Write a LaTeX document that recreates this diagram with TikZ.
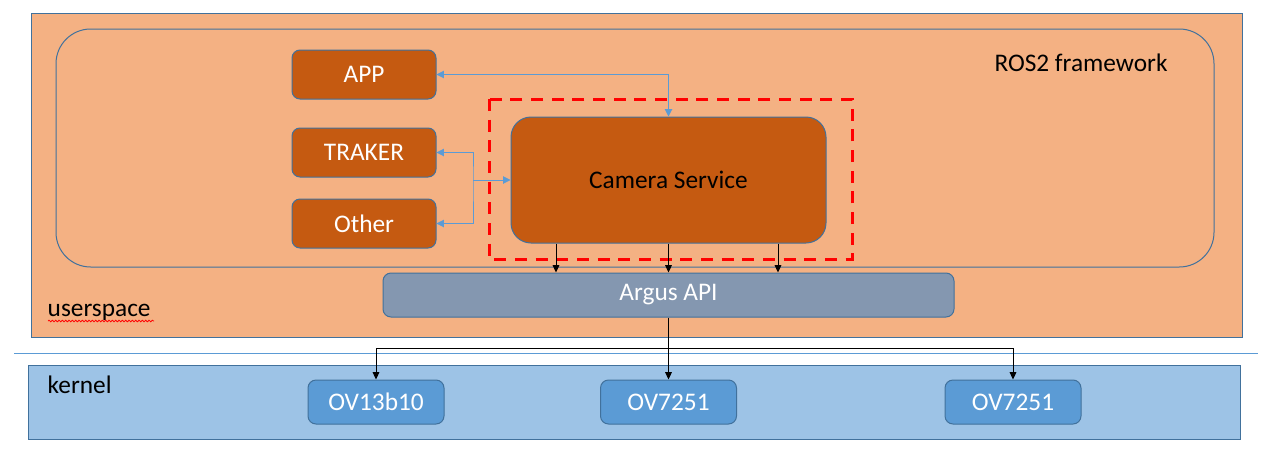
\documentclass[tikz,border=0pt]{standalone}
\usepackage{fontspec}
\setmainfont{Carlito}
\usetikzlibrary{arrows.meta,decorations.pathmorphing}

\definecolor{orangebg}{HTML}{F4B183}
\definecolor{boxorange}{HTML}{C55A11}
\definecolor{edgeblue}{HTML}{41719C}
\definecolor{argusgray}{HTML}{8497B0}
\definecolor{kernelbg}{HTML}{9DC3E6}
\definecolor{ovblue}{HTML}{5B9BD5}

\tikzset{
  appbox/.style={draw=edgeblue, line width=0.75pt, fill=boxorange, text=white,
    rounded corners=6pt, minimum width=108pt, minimum height=36.75pt},
  ovbox/.style={draw=edgeblue, line width=0.75pt, fill=ovblue, text=white,
    rounded corners=6pt, minimum width=102pt, minimum height=33pt},
  bluelink/.style={ovblue, line width=0.75pt, -{Triangle[length=5.5pt,width=5.5pt]}},
  bluelinks/.style={bluelink, {Triangle[length=5.5pt,width=5.5pt]}-{Triangle[length=5.5pt,width=5.5pt]}},
  blacklink/.style={black, line width=0.75pt, -{Triangle[length=5.5pt,width=5pt]}}
}

\begin{document}
\begin{tikzpicture}[x=0.75pt, y=-0.75pt, font=\fontsize{19}{23}\selectfont]
\useasboundingbox (0,0) rectangle (1267,461);

% Draw the two layers
\draw[edgeblue, line width=0.75pt, fill=orangebg] (31,13) rectangle (1242,337);
\draw[edgeblue, line width=0.75pt, rounded corners=26pt] (56,29) rectangle (1214,267);
\draw[ovblue, line width=0.75pt] (14,353) -- (1258,353);
\draw[edgeblue, line width=0.75pt, fill=kernelbg] (28,365) rectangle (1240,439);

\node (ros) at (1081,63) {ROS2 framework};
\node[anchor=west] (user) at (43,312) {userspace};
\draw[red, line width=0.6pt, decorate, decoration={snake, amplitude=0.6pt, segment length=2.5pt}]
  (48,321) -- (154,321);
\node[anchor=west] (kern) at (43,385) {kernel};

% Draw the ROS2 nodes
\node[appbox] (app) at (364,74.5) {APP};
\node[appbox] (trk) at (364,152.5) {TRAKER};
\node[appbox] (oth) at (364,223.5) {Other};
\node[draw=edgeblue, line width=0.75pt, fill=boxorange, rounded corners=15pt,
  minimum width=236.25pt, minimum height=94.5pt] (cam) at (668.5,180) {Camera Service};
\draw[red, line width=2.25pt, dash pattern=on 9pt off 6.5pt] (489,99) rectangle (852,259);

% Draw Argus and the sensors
\node[draw=edgeblue, line width=0.75pt, fill=argusgray, text=white, rounded corners=6pt,
  minimum width=428.25pt, minimum height=33pt] (argus) at (668.5,295) {Argus API};
\node[ovbox] (ova) at (376,402) {OV13b10};
\node[ovbox] (ovb) at (668.5,402) {OV7251};
\node[ovbox] (ovc) at (1013,402) {OV7251};

% Draw the links
\coordinate (split) at (473,180);
\draw[bluelinks] (app.east) -| (cam.north);
\draw[bluelinks] (trk.east) -| (split) |- (oth.east);
\draw[bluelink] (split) -- (cam.west);
\foreach \x in {556,668.5,778}
  \draw[blacklink] (\x,0 |- cam.south) -- (\x,0 |- argus.north);

\coordinate (bus) at (668.5,348);
\draw[blacklink] (argus.south) -- (ovb.north);
\draw[blacklink] (bus) -| (ova.north);
\draw[blacklink] (bus) -| (ovc.north);

\end{tikzpicture}
\end{document}
